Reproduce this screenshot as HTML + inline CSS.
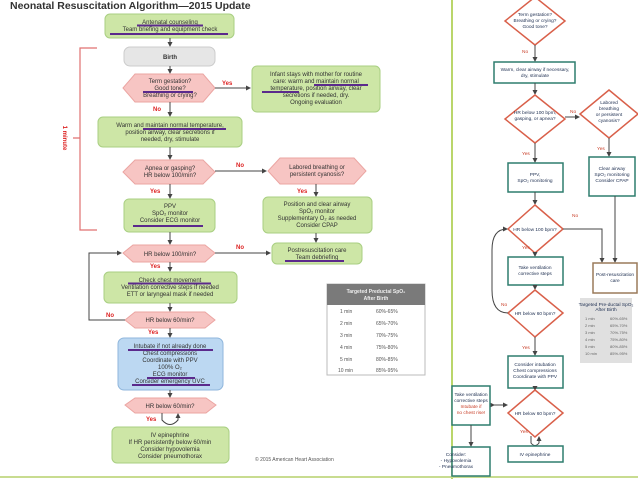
<!DOCTYPE html>
<html><head><meta charset="utf-8"><style>
html,body{margin:0;padding:0;background:#fff;width:638px;height:479px;overflow:hidden}
svg{display:block}
text{font-family:"Liberation Sans",sans-serif}
.t{font-size:6px;fill:#333;text-anchor:middle}
.r{font-size:6px;fill:#d22;font-weight:bold}
.g{fill:#cde6a6;stroke:#a9cf82;stroke-width:1}
.h{fill:#f7c5c3;stroke:#eba5a2;stroke-width:1}
.u{stroke:#5b2a8c;stroke-width:2}
.a{stroke:#444;stroke-width:1;fill:none}
.rb{fill:#fff;stroke:#2e7d6e;stroke-width:1.5}
.rd{fill:#fff;stroke:#d9604a;stroke-width:1.5}
.rt{font-size:4.8px;fill:#1d2e50;text-anchor:middle}
.ro{font-size:4.8px;fill:#c9402a}
</style></head><body>
<svg width="638" height="479" viewBox="0 0 638 479">
<defs><marker id="m" markerWidth="5" markerHeight="5" refX="4" refY="2.5" orient="auto"><path d="M0,0L5,2.5L0,5z" fill="#444"/></marker></defs>
<text x="10" y="9" style="font-size:10.5px;font-weight:bold;fill:#333">Neonatal Resuscitation Algorithm—2015 Update</text>
<path d="M97,48H80V230H97M80,138H73" stroke="#e07070" stroke-width="1.2" fill="none"/>
<text transform="translate(63,138) rotate(90)" class="r" text-anchor="middle">1 minute</text>
<rect class="g" x="105" y="14" width="129" height="24" rx="5"/>
<text class="t" x="170" y="24">Antenatal counseling</text><text class="t" x="170" y="31">Team briefing and equipment check</text>
<line class="u" x1="137" y1="25.5" x2="203" y2="25.5"/><line class="u" x1="110" y1="34" x2="228" y2="34"/>
<line class="a" x1="170" y1="38" x2="170" y2="46" marker-end="url(#m)"/>
<rect x="124" y="47" width="91" height="19" rx="6" fill="#e6e6e6" stroke="#ccc"/>
<text class="t" x="170" y="59" font-weight="bold">Birth</text>
<line class="a" x1="170" y1="66" x2="170" y2="73" marker-end="url(#m)"/>
<polygon class="h" points="123,88 135,74 203,74 215,88 203,102 135,102"/>
<text class="t" x="170" y="83">Term gestation?</text><text class="t" x="170" y="90">Good tone?</text><text class="t" x="170" y="97">Breathing or crying?</text>
<line class="u" x1="143" y1="92" x2="193" y2="92"/>
<text class="r" x="222" y="85">Yes</text>
<line class="a" x1="215" y1="88" x2="250" y2="88" marker-end="url(#m)"/>
<rect class="g" x="252" y="66" width="128" height="46" rx="5"/>
<text class="t" x="316" y="76">Infant stays with mother for routine</text><text class="t" x="316" y="83">care: warm and maintain normal</text><text class="t" x="316" y="90">temperature, position airway, clear</text><text class="t" x="316" y="97">secretions if needed, dry.</text><text class="t" x="316" y="104">Ongoing evaluation</text>
<line class="u" x1="314" y1="85" x2="368" y2="85"/><line class="u" x1="262" y1="92" x2="299" y2="92"/>
<text class="r" x="153" y="111">No</text>
<line class="a" x1="170" y1="102" x2="170" y2="116" marker-end="url(#m)"/>
<rect class="g" x="98" y="117" width="144" height="30" rx="5"/>
<text class="t" x="170" y="127">Warm and maintain normal temperature,</text><text class="t" x="170" y="134">position airway, clear secretions if</text><text class="t" x="170" y="141">needed, dry, stimulate</text>
<line class="u" x1="143" y1="129" x2="226" y2="129"/>
<line class="a" x1="170" y1="147" x2="170" y2="159" marker-end="url(#m)"/>
<polygon class="h" points="123,172 135,160 203,160 215,172 203,184 135,184"/>
<text class="t" x="170" y="170">Apnea or gasping?</text><text class="t" x="170" y="177">HR below 100/min?</text>
<text class="r" x="236" y="167">No</text>
<line class="a" x1="215" y1="171" x2="266" y2="171" marker-end="url(#m)"/>
<polygon class="h" points="268,171 280,158 354,158 366,171 354,184 280,184"/>
<text class="t" x="317" y="169">Labored breathing or</text><text class="t" x="317" y="176">persistent cyanosis?</text>
<text class="r" x="150" y="193">Yes</text><text class="r" x="297" y="193">Yes</text>
<line class="a" x1="170" y1="184" x2="170" y2="198" marker-end="url(#m)"/>
<line class="a" x1="316" y1="184" x2="316" y2="196" marker-end="url(#m)"/>
<rect class="g" x="124" y="199" width="91" height="33" rx="5"/>
<text class="t" x="170" y="208">PPV</text><text class="t" x="170" y="215">SpO₂ monitor</text><text class="t" x="170" y="222">Consider ECG monitor</text>
<line class="u" x1="133" y1="226" x2="203" y2="226"/>
<rect class="g" x="263" y="197" width="109" height="36" rx="5"/>
<text class="t" x="317" y="206">Position and clear airway</text><text class="t" x="317" y="213">SpO₂ monitor</text><text class="t" x="317" y="220">Supplementary O₂ as needed</text><text class="t" x="317" y="227">Consider CPAP</text>
<line class="a" x1="170" y1="232" x2="170" y2="244" marker-end="url(#m)"/>
<line class="a" x1="316" y1="233" x2="316" y2="242" marker-end="url(#m)"/>
<polygon class="h" points="123,253 133,245 205,245 215,253 205,262 133,262"/>
<text class="t" x="170" y="256">HR below 100/min?</text>
<text class="r" x="236" y="249">No</text>
<line class="a" x1="215" y1="253" x2="270" y2="253" marker-end="url(#m)"/>
<rect class="g" x="272" y="243" width="90" height="21" rx="5"/>
<text class="t" x="317" y="252">Postresuscitation care</text><text class="t" x="317" y="259">Team debriefing</text>
<line class="u" x1="285" y1="261" x2="344" y2="261"/>
<text class="r" x="150" y="268">Yes</text>
<line class="a" x1="170" y1="262" x2="170" y2="271" marker-end="url(#m)"/>
<rect class="g" x="104" y="272" width="133" height="31" rx="5"/>
<text class="t" x="170" y="282">Check chest movement</text><text class="t" x="170" y="289">Ventilation corrective steps if needed</text><text class="t" x="170" y="296">ETT or laryngeal mask if needed</text>
<line class="u" x1="128" y1="283.5" x2="211" y2="283.5"/>
<line class="a" x1="170" y1="303" x2="170" y2="311" marker-end="url(#m)"/>
<polygon class="h" points="125,320 135,312 205,312 215,320 205,328 135,328"/>
<text class="t" x="170" y="322">HR below 60/min?</text>
<text class="r" x="106" y="317">No</text>
<path class="a" d="M125,320H89V253H121" marker-end="url(#m)"/>
<text class="r" x="148" y="334">Yes</text>
<line class="a" x1="170" y1="328" x2="170" y2="337" marker-end="url(#m)"/>
<rect x="118" y="338" width="105" height="52" rx="6" fill="#bcd8f2" stroke="#8fb6dc"/>
<text class="t" x="170" y="348">Intubate if not already done</text><text class="t" x="170" y="355">Chest compressions</text><text class="t" x="170" y="362">Coordinate with PPV</text><text class="t" x="170" y="369">100% O₂</text><text class="t" x="170" y="376">ECG monitor</text><text class="t" x="170" y="383">Consider emergency UVC</text>
<line class="u" x1="128" y1="350" x2="213" y2="350"/><line class="u" x1="147" y1="378" x2="195" y2="378"/><line class="u" x1="132" y1="385" x2="210" y2="385"/>
<line class="a" x1="170" y1="390" x2="170" y2="397" marker-end="url(#m)"/>
<polygon class="h" points="125,405 135,398 206,398 216,405 206,413 135,413"/>
<text class="t" x="170" y="408">HR below 60/min?</text>
<text class="r" x="146" y="421">Yes</text>
<path class="a" d="M162,413V420Q170,429 178,420V414" marker-end="url(#m)"/>
<rect class="g" x="112" y="427" width="117" height="36" rx="5"/>
<text class="t" x="170" y="437">IV epinephrine</text><text class="t" x="170" y="444">If HR persistently below 60/min</text><text class="t" x="170" y="451">Consider hypovolemia</text><text class="t" x="170" y="458">Consider pneumothorax</text>
<text x="255" y="461" style="font-size:5px;fill:#555">© 2015 American Heart Association</text>
<rect x="327" y="284" width="98" height="91" fill="#fff" stroke="#bbb"/>
<rect x="327" y="284" width="98" height="21" fill="#7a7a7a"/>
<text x="376" y="293" style="font-size:5px;fill:#eee;text-anchor:middle;font-weight:bold">Targeted Preductal SpO₂</text>
<text x="376" y="300" style="font-size:5px;fill:#eee;text-anchor:middle;font-weight:bold">After Birth</text>
<g style="font-size:5px;fill:#555">
<text x="340" y="313">1 min</text><text x="376" y="313">60%-65%</text>
<text x="340" y="325">2 min</text><text x="376" y="325">65%-70%</text>
<text x="340" y="337">3 min</text><text x="376" y="337">70%-75%</text>
<text x="340" y="349">4 min</text><text x="376" y="349">75%-80%</text>
<text x="340" y="361">5 min</text><text x="376" y="361">80%-85%</text>
<text x="338" y="372">10 min</text><text x="376" y="372">85%-95%</text>
</g>
<line x1="452" y1="0" x2="452" y2="479" stroke="#a4c93a" stroke-width="1.5"/>
<line x1="0" y1="477" x2="638" y2="477" stroke="#c8dc90" stroke-width="2"/>
<polygon class="rd" points="535,-3 565,21 535,45 505,21"/>
<text class="rt" x="535" y="16">Term gestation?</text><text class="rt" x="535" y="22">Breathing or crying?</text><text class="rt" x="535" y="28">Good tone?</text>
<text class="ro" x="522" y="53">No</text>
<line class="a" x1="535" y1="45" x2="535" y2="61" marker-end="url(#m)"/>
<rect class="rb" x="494" y="62" width="81" height="21"/>
<text class="rt" x="535" y="71">Warm, clear airway if necessary,</text><text class="rt" x="535" y="77">dry, stimulate</text>
<line class="a" x1="535" y1="83" x2="535" y2="94" marker-end="url(#m)"/>
<polygon class="rd" points="535,95 565,119 535,143 505,119"/>
<text class="rt" x="535" y="114">HR below 100 bpm,</text><text class="rt" x="535" y="120">gasping, or apnea?</text>
<text class="ro" x="570" y="113">No</text>
<line class="a" x1="565" y1="117" x2="579" y2="117" marker-end="url(#m)"/>
<polygon class="rd" points="609,90 638,114 609,138 580,114"/>
<text class="rt" x="609" y="104">Labored</text><text class="rt" x="609" y="110">breathing</text><text class="rt" x="609" y="116">or persistent</text><text class="rt" x="609" y="122">cyanosis?</text>
<text class="ro" x="522" y="155">Yes</text><text class="ro" x="597" y="150">Yes</text>
<line class="a" x1="535" y1="143" x2="535" y2="162" marker-end="url(#m)"/>
<line class="a" x1="609" y1="138" x2="609" y2="156" marker-end="url(#m)"/>
<rect class="rb" x="508" y="163" width="55" height="29"/>
<text class="rt" x="535" y="176">PPV,</text><text class="rt" x="535" y="182">SpO₂ monitoring</text>
<rect class="rb" x="589" y="157" width="46" height="39"/>
<text class="rt" x="612" y="170">Clear airway</text><text class="rt" x="612" y="176">SpO₂ monitoring</text><text class="rt" x="612" y="182">Consider CPAP</text>
<line class="a" x1="535" y1="192" x2="535" y2="204" marker-end="url(#m)"/>
<line class="a" x1="615" y1="196" x2="615" y2="262" marker-end="url(#m)"/>
<polygon class="rd" points="535,205 563,229 535,253 508,229"/>
<text class="rt" x="535" y="231">HR below 100 bpm?</text>
<text class="ro" x="572" y="217">No</text>
<path class="a" d="M563,229H602V262" marker-end="url(#m)"/>
<rect x="593" y="263" width="44" height="30" fill="#fff" stroke="#9a7a5a" stroke-width="1.5"/>
<text class="rt" x="615" y="276">Post-resuscitation</text><text class="rt" x="615" y="282">care</text>
<text class="ro" x="522" y="249">Yes</text>
<line class="a" x1="535" y1="253" x2="535" y2="256" marker-end="url(#m)"/>
<rect class="rb" x="508" y="257" width="55" height="28"/>
<text class="rt" x="535" y="269">Take ventilation</text><text class="rt" x="535" y="275">corrective steps</text>
<line class="a" x1="535" y1="285" x2="535" y2="289" marker-end="url(#m)"/>
<polygon class="rd" points="535,290 563,313 535,337 508,313"/>
<text class="rt" x="535" y="315">HR below 60 bpm?</text>
<text class="ro" x="501" y="306">No</text>
<path class="a" d="M508,313Q492,313 492,290V250Q492,229 507,229" marker-end="url(#m)"/>
<text class="ro" x="522" y="349">Yes</text>
<line class="a" x1="535" y1="337" x2="535" y2="355" marker-end="url(#m)"/>
<rect class="rb" x="508" y="356" width="55" height="32"/>
<text class="rt" x="535" y="366">Consider intubation</text><text class="rt" x="535" y="372">Chest compressions</text><text class="rt" x="535" y="378">Coordinate with PPV</text>
<line class="a" x1="535" y1="388" x2="535" y2="390" marker-end="url(#m)"/>
<polygon class="rd" points="535,390 563,413 535,437 508,413"/>
<text class="rt" x="535" y="415">HR below 60 bpm?</text>
<line class="a" x1="494" y1="405" x2="507" y2="405" marker-start="url(#m)" marker-end="url(#m)"/>
<rect class="rb" x="452" y="386" width="38" height="39"/>
<text class="rt" x="471" y="396">Take ventilation</text><text class="rt" x="471" y="402">corrective steps</text><text class="ro" x="471" y="408" text-anchor="middle">Intubate if</text><text class="ro" x="471" y="414" text-anchor="middle">no chest rise!</text>
<line class="a" x1="471" y1="425" x2="471" y2="446" marker-end="url(#m)"/>
<rect class="rb" x="452" y="447" width="38" height="29"/>
<text class="rt" x="456" y="456" text-anchor="start">Consider:</text><text class="rt" x="456" y="462" text-anchor="start">- Hypovolemia</text><text class="rt" x="456" y="468" text-anchor="start">- Pneumothorax</text>
<text class="ro" x="520" y="433">Yes</text>
<path class="a" d="M531,436V443Q535,448 539,443V437" marker-end="url(#m)"/>
<rect class="rb" x="508" y="446" width="55" height="16"/>
<text class="rt" x="535" y="456">IV epinephrine</text>
<rect x="580" y="298" width="52" height="65" fill="#e0e0e0"/>
<text class="rt" x="606" y="306">Targeted Pre-ductal SpO₂</text><text class="rt" x="606" y="311">After Birth</text>
<g style="font-size:4px;fill:#666">
<text x="585" y="320">1 min</text><text x="610" y="320">60%-65%</text>
<text x="585" y="327">2 min</text><text x="610" y="327">65%-70%</text>
<text x="585" y="334">3 min</text><text x="610" y="334">70%-75%</text>
<text x="585" y="341">4 min</text><text x="610" y="341">75%-80%</text>
<text x="585" y="348">5 min</text><text x="610" y="348">80%-85%</text>
<text x="585" y="355">10 min</text><text x="610" y="355">85%-95%</text>
</g>
</svg>
</body></html>
